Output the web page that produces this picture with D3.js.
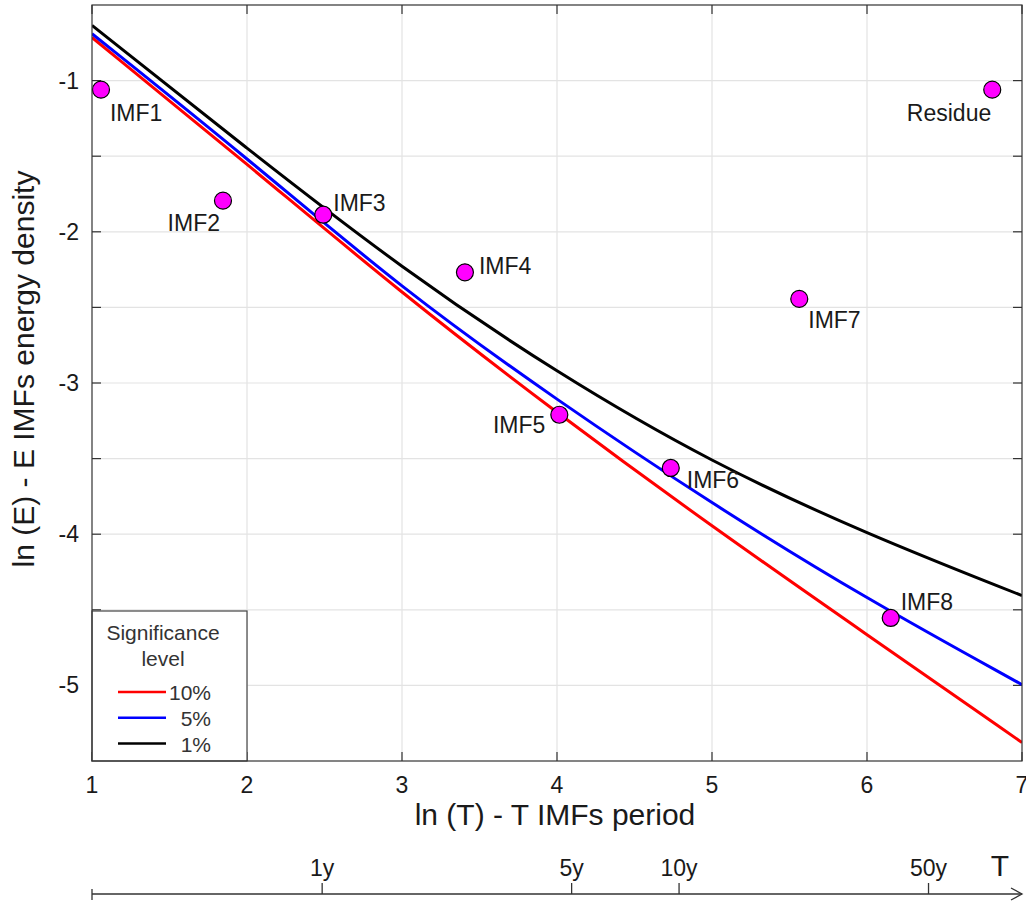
<!DOCTYPE html>
<html>
<head>
<meta charset="utf-8">
<script src="https://cdn.jsdelivr.net/npm/d3@7"></script>
<style>
  body { margin: 0; background: #fff; }
  text { font-family: "Liberation Sans", Arial, sans-serif; fill: #1a1a1a; }
</style>
</head>
<body>
<script>
// significance curves, at ln(T) = 1..7
var curveX = [1, 2, 3, 4, 5, 6, 7]
var level10 = [-0.715, -1.55, -2.41, -3.2, -3.95, -4.665, -5.378]
var level5 = [-0.69, -1.51, -2.38, -3.115, -3.80, -4.43, -4.995]
var level1 = [-0.635, -1.45, -2.245, -2.935, -3.53, -4.0, -4.406]

// IMF energy density points
var pointNames = ['IMF1', 'IMF2', 'IMF3', 'IMF4', 'IMF5', 'IMF6', 'IMF7', 'IMF8', 'Residue']
var pointLnT = [1.058, 1.845, 2.492, 3.406, 4.015, 4.734, 5.563, 6.153, 6.808]
var pointLnE = [-1.06, -1.794, -1.887, -2.268, -3.21, -3.562, -2.444, -4.554, -1.06]

var xTicks = [1, 2, 3, 4, 5, 6, 7]
var yTicks = [-1, -2, -3, -4, -5]
var yMinor = [-1, -1.5, -2, -2.5, -3, -3.5, -4, -4.5, -5]

// lower period axis, T in months
var periodYears = [1, 5, 10, 50]
var periodLabels = ['1y', '5y', '10y', '50y']

var legendNames = ['10%', '5%', '1%']

var options = {
  width: 1026,
  height: 901,
  left: 92,
  right: 1022,
  top: 5,
  bottom: 761,
  tick: 9
}

// label placement next to each marker
var labelPos = [
  { dx: 9, dy: 31, anchor: 'start' },
  { dx: -3, dy: 30, anchor: 'end' },
  { dx: 10, dy: -4, anchor: 'start' },
  { dx: 14, dy: 2, anchor: 'start' },
  { dx: -14, dy: 18, anchor: 'end' },
  { dx: 16, dy: 20, anchor: 'start' },
  { dx: 9, dy: 29, anchor: 'start' },
  { dx: 10, dy: -8, anchor: 'start' },
  { dx: -1, dy: 31, anchor: 'end' }
]

var svg = d3.select('body').append('svg')
  .attr('width', options.width)
  .attr('height', options.height)

var x = d3.scaleLinear().domain([1, 7]).range([options.left, options.right])
var y = d3.scaleLinear().domain([-5.5, -0.5]).range([options.bottom, options.top])

svg.append('defs').append('clipPath').attr('id', 'plot')
  .append('rect')
  .attr('x', options.left).attr('y', options.top)
  .attr('width', options.right - options.left)
  .attr('height', options.bottom - options.top)

// grid
svg.append('g').selectAll('line').data(xTicks.slice(1, -1)).enter().append('line')
  .attr('x1', function(d) { return x(d) }).attr('x2', function(d) { return x(d) })
  .attr('y1', options.top).attr('y2', options.bottom)
  .attr('stroke', '#e3e3e3').attr('stroke-width', 1.2)
svg.append('g').selectAll('line').data(yMinor).enter().append('line')
  .attr('y1', function(d) { return y(d) }).attr('y2', function(d) { return y(d) })
  .attr('x1', options.left).attr('x2', options.right)
  .attr('stroke', '#e3e3e3').attr('stroke-width', 1.2)

// inward ticks on all four sides
var tickG = svg.append('g').attr('stroke', '#333').attr('stroke-width', 1.2)
xTicks.forEach(function(d) {
  tickG.append('line').attr('x1', x(d)).attr('x2', x(d))
    .attr('y1', options.bottom).attr('y2', options.bottom - options.tick)
  tickG.append('line').attr('x1', x(d)).attr('x2', x(d))
    .attr('y1', options.top).attr('y2', options.top + options.tick)
})
yMinor.forEach(function(d) {
  tickG.append('line').attr('y1', y(d)).attr('y2', y(d))
    .attr('x1', options.left).attr('x2', options.left + options.tick)
  tickG.append('line').attr('y1', y(d)).attr('y2', y(d))
    .attr('x1', options.right).attr('x2', options.right - options.tick)
})

// tick labels
svg.append('g').selectAll('text').data(xTicks).enter().append('text')
  .attr('x', function(d) { return x(d) })
  .attr('y', options.bottom + 32)
  .attr('text-anchor', 'middle')
  .style('font-size', '23px')
  .text(function(d) { return d })
svg.append('g').selectAll('text').data(yTicks).enter().append('text')
  .attr('x', options.left - 13)
  .attr('y', function(d) { return y(d) + 8 })
  .attr('text-anchor', 'end')
  .style('font-size', '23px')
  .text(function(d) { return d })

// axis titles
svg.append('text')
  .attr('x', 555)
  .attr('y', 825)
  .attr('text-anchor', 'middle')
  .style('font-size', '30px')
  .text('ln (T) - T IMFs period')
svg.append('text')
  .attr('transform', 'translate(34,369) rotate(-90)')
  .attr('text-anchor', 'middle')
  .style('font-size', '30px')
  .text('ln (E) - E IMFs energy density')

// significance curves
var series = [
  { name: '10%', values: level10, color: '#ff0000' },
  { name: '5%', values: level5, color: '#0000ff' },
  { name: '1%', values: level1, color: '#000000' }
]
var line = d3.line()
  .x(function(d) { return x(d[0]) })
  .y(function(d) { return y(d[1]) })
  .curve(d3.curveBasis)

svg.append('g').attr('clip-path', 'url(#plot)')
  .selectAll('path').data(series).enter().append('path')
  .attr('d', function(s) { return line(curveX.map(function(v, i) { return [v, s.values[i]] })) })
  .attr('fill', 'none')
  .attr('stroke', function(s) { return s.color })
  .attr('stroke-width', 3)

// markers and their labels
var points = pointNames.map(function(n, i) {
  return { name: n, lnT: pointLnT[i], lnE: pointLnE[i], pos: labelPos[i] }
})
var pts = svg.append('g')
pts.selectAll('circle').data(points).enter().append('circle')
  .attr('cx', function(d) { return x(d.lnT) })
  .attr('cy', function(d) { return y(d.lnE) })
  .attr('r', 8.5)
  .attr('fill', '#ff00ff')
  .attr('stroke', '#000')
  .attr('stroke-width', 1.2)
pts.selectAll('text').data(points).enter().append('text')
  .attr('x', function(d) { return x(d.lnT) + d.pos.dx })
  .attr('y', function(d) { return y(d.lnE) + d.pos.dy })
  .attr('text-anchor', function(d) { return d.pos.anchor })
  .style('font-size', '23px')
  .text(function(d) { return d.name })

// legend box, bottom left
var lg = svg.append('g')
lg.append('rect')
  .attr('x', options.left).attr('y', 611)
  .attr('width', x(2) - options.left).attr('height', options.bottom - 611)
  .attr('fill', '#fff').attr('stroke', '#444').attr('stroke-width', 1.2)
lg.append('text').attr('x', 163).attr('y', 640).attr('text-anchor', 'middle')
  .style('font-size', '21px').style('fill', '#333').text('Significance')
lg.append('text').attr('x', 163).attr('y', 666).attr('text-anchor', 'middle')
  .style('font-size', '21px').style('fill', '#333').text('level')
series.forEach(function(s, i) {
  var ly = 692 + i * 25.8
  lg.append('line').attr('x1', 118).attr('x2', 166).attr('y1', ly).attr('y2', ly)
    .attr('stroke', s.color).attr('stroke-width', 2.5)
  lg.append('text').attr('x', 211).attr('y', ly + 8).attr('text-anchor', 'end')
    .style('font-size', '21px').style('fill', '#333').text(legendNames[i])
})

// frame
svg.append('rect')
  .attr('x', options.left).attr('y', options.top)
  .attr('width', options.right - options.left).attr('height', options.bottom - options.top)
  .attr('fill', 'none').attr('stroke', '#333').attr('stroke-width', 1.2)

// period axis with arrow
var ty = 894
var pg = svg.append('g').attr('stroke', '#333').attr('stroke-width', 1.3)
pg.append('line').attr('x1', options.left).attr('x2', options.right).attr('y1', ty).attr('y2', ty)
pg.append('line').attr('x1', options.left).attr('x2', options.left).attr('y1', ty - 5).attr('y2', ty + 6)
pg.append('path').attr('fill', 'none')
  .attr('d', 'M' + (options.right - 11) + ',' + (ty - 6) + 'L' + options.right + ',' + ty + 'L' + (options.right - 11) + ',' + (ty + 6))
pg.selectAll('line.pt').data(periodYears).enter().append('line')
  .attr('class', 'pt')
  .attr('x1', function(d) { return x(Math.log(12 * d)) })
  .attr('x2', function(d) { return x(Math.log(12 * d)) })
  .attr('y1', ty).attr('y2', ty - 11)
svg.append('g').selectAll('text').data(periodYears).enter().append('text')
  .attr('x', function(d) { return x(Math.log(12 * d)) })
  .attr('y', 876)
  .attr('text-anchor', 'middle')
  .style('font-size', '23px')
  .text(function(d, i) { return periodLabels[i] })
svg.append('text').attr('x', 1000).attr('y', 876).attr('text-anchor', 'middle')
  .style('font-size', '30px').text('T')
</script>
</body>
</html>
